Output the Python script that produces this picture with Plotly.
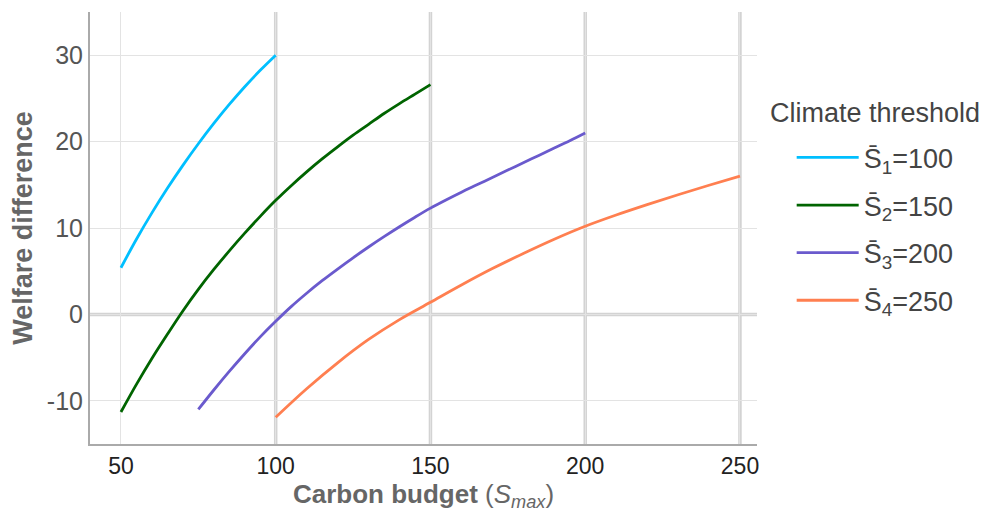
import plotly.graph_objects as go

# Data
x1 = [50, 55, 60, 65, 70, 75, 80, 85, 90, 95, 100]
y1 = [5.4, 8.7, 11.75, 14.6, 17.25, 19.75, 22.1, 24.3, 26.35, 28.25, 30.0]

x2 = [50, 55, 60, 65, 70, 75, 80, 85, 90, 95, 100, 105, 110, 115, 120, 125, 130, 135, 140, 145, 150]
y2 = [-11.3, -8.1, -5.1, -2.3, 0.4, 2.9, 5.2, 7.35, 9.4, 11.35, 13.2, 14.9, 16.5, 18.0, 19.4,
      20.75, 22.0, 23.25, 24.4, 25.5, 26.6]

x3 = [75, 80, 85, 90, 95, 100, 105, 110, 115, 120, 125, 130, 135, 140, 145, 150,
      155, 160, 165, 170, 175, 180, 185, 190, 195, 200]
y3 = [-11.0, -8.75, -6.6, -4.55, -2.6, -0.8, 0.9, 2.45, 3.9, 5.25, 6.55, 7.8, 9.0, 10.15, 11.25, 12.3,
      13.25, 14.15, 15.0, 15.85, 16.7, 17.55, 18.4, 19.25, 20.1, 21.0]

x4 = [100, 110, 120, 130, 140, 150, 160, 170, 180, 190, 200, 210, 220, 230, 240, 250]
y4 = [-11.9, -8.6, -5.6, -2.9, -0.6, 1.4, 3.4, 5.3, 7.05, 8.7, 10.2, 11.5, 12.7, 13.85, 14.95, 16.0]

names = ["S̄<sub>1</sub>=100", "S̄<sub>2</sub>=150", "S̄<sub>3</sub>=200", "S̄<sub>4</sub>=250"]
colors = ["#00BFFF", "#006400", "#6A5ACD", "#FF7F50"]
legend_title = "Climate threshold"

x_ticks = [50, 100, 150, 200, 250]
y_ticks = [-10, 0, 10, 20, 30]
thick_x = [100, 150, 200, 250]
thick_y = [0]

FONT = "Liberation Sans, Arial, sans-serif"

fig = go.Figure()
for i, (xs, ys, nm, c) in enumerate(zip([x1, x2, x3, x4], [y1, y2, y3, y4], names, colors)):
    fig.add_trace(go.Scatter(x=xs, y=ys, mode="lines", name=nm, legendgroup=f"g{i}",
                             line=dict(color=c, width=2.8, shape="spline")))

shapes = []
for xv in thick_x:
    shapes.append(dict(type="line", xref="x", yref="paper", x0=xv, x1=xv, y0=0, y1=1,
                       line=dict(color="#d3d3d3", width=3.5), layer="below"))
for yv in thick_y:
    shapes.append(dict(type="line", xref="paper", yref="y", x0=0, x1=1, y0=yv, y1=yv,
                       line=dict(color="#d3d3d3", width=3.5), layer="below"))

fig.update_layout(
    width=987, height=510,
    margin=dict(l=82, r=238, t=4, b=74),
    paper_bgcolor="white", plot_bgcolor="white",
    font=dict(family=FONT, color="#555555"),
    shapes=shapes,
    showlegend=True,
    legend=dict(
        font=dict(size=27, color="#444444"),
        x=1.052, xanchor="left", y=0.719, yanchor="top",
        bgcolor="rgba(0,0,0,0)",
        traceorder="grouped", tracegroupgap=9.5,
        itemwidth=62,
    ),
    annotations=[dict(
        text=legend_title, xref="paper", yref="paper", x=1.0165, y=0.766,
        xanchor="left", yanchor="middle", showarrow=False,
        font=dict(size=27, color="#444444"),
    )],
    xaxis=dict(
        range=[40, 255.5], tickvals=x_ticks, ticktext=[str(v) for v in x_ticks],
        showgrid=True, gridcolor="#e3e3e3", gridwidth=1.2,
        zeroline=False, showline=True, linecolor="#aaaaaa", linewidth=2,
        ticks="", tickfont=dict(size=23, color="#222222"),
        title=dict(text="<b>Carbon budget</b> (<i>S</i><sub><i>max</i></sub>)",
                   font=dict(size=26, color="#666666"), standoff=3),
    ),
    yaxis=dict(
        range=[-15, 35], tickvals=y_ticks, ticktext=[str(v) for v in y_ticks],
        showgrid=True, gridcolor="#e3e3e3", gridwidth=1.2,
        zeroline=False, showline=True, linecolor="#aaaaaa", linewidth=2,
        ticks="", tickfont=dict(size=25, color="#555555"),
        title=dict(text="<b>Welfare difference</b>", font=dict(size=27, color="#666666"),
                   standoff=10),
    ),
)

fig.write_html("out.html")
